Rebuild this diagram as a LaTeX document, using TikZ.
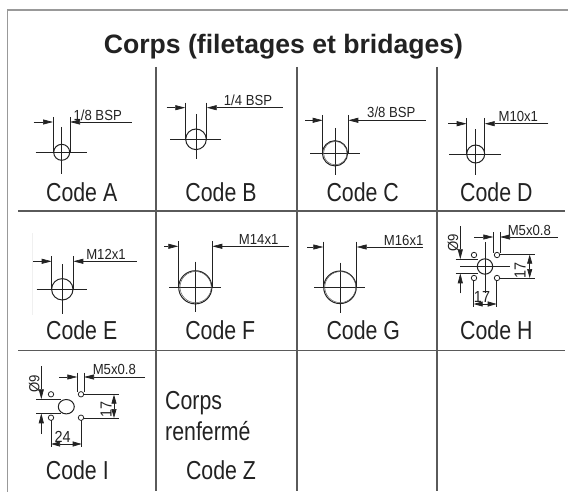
\documentclass[tikz,border=0pt]{standalone}
\usepackage{fontspec}
\setmainfont{Liberation Sans}
\newfontfamily\codefont[FakeStretch=0.82]{Liberation Sans}
\newfontfamily\dimfont[FakeStretch=0.9]{Liberation Sans}
\usetikzlibrary{arrows.meta}
\definecolor{gridc}{HTML}{5A5A5A}
\definecolor{framec}{HTML}{999999}
\definecolor{inkc}{HTML}{222222}
\tikzset{
  gridline/.style={draw=gridc,line width=1.2pt},
  frameline/.style={draw=framec,line width=1.2pt},
  thinl/.style={draw=inkc,line width=0.7pt},
  circl/.style={draw=inkc,line width=1pt},
  holec/.style={draw=inkc,line width=0.8pt},
  dblc/.style={draw=inkc!75,line width=0.5pt},
  arrl/.style={thinl,-{Stealth[length=10pt,width=5pt,inset=0pt,fill=inkc]}},
  darrl/.style={thinl,{Stealth[length=9pt,width=5pt,inset=0pt,fill=inkc]}-{Stealth[length=9pt,width=5pt,inset=0pt,fill=inkc]}},
  codetxt/.style={anchor=base,inner sep=0pt,text=inkc,font=\codefont\fontsize{26}{28}\selectfont},
  lefttxt/.style={anchor=base west,inner sep=0pt,text=inkc,font=\codefont\fontsize{26}{28}\selectfont},
  dimtxt/.style={anchor=base,inner sep=0pt,text=inkc,font=\dimfont\fontsize{14.6}{16}\selectfont},
  bigdim/.style={anchor=base,inner sep=0pt,text=inkc,font=\dimfont\fontsize{16}{17}\selectfont},
  titletxt/.style={anchor=base,inner sep=0pt,text=inkc,font=\bfseries\fontsize{26.6}{30}\selectfont},
}
\begin{document}
\begin{tikzpicture}[x=1pt,y=-1pt]
\useasboundingbox (0,0) rectangle (568,492);
% frame
\draw[frameline] (568,10) -- (7.5,10) -- (7.5,492);
% grid
\foreach \gx in {156,297,437} \draw[gridline] (\gx,67) -- (\gx,491);
\foreach \gy in {211,350.7} \draw[gridline] (18,\gy) -- (565,\gy);
\node[titletxt] (title) at (283.5,53.3) {Corps (filetages et bridages)};
% single-hole ports
\foreach \dy/\xa/\xl/\xr/\xb/\et/\ccx/\ccy/\rad/\hla/\hlb/\vta/\vtb/\dbl in {
  122/33.5/53/70/131.7/117/61.7/152.3/8/35.7/86.7/127/174.3/0,
  107.7/166.7/185.3/206.7/282.7/102.7/196/139.3/10.3/170.3/220.7/114/158.7/0,
  120.3/305.3/322.7/348.3/425.7/115/335/153.3/12.6/310/360/128/174.7/0.9,
  123.7/448/466.7/484.7/548.3/118/475.7/154/9/449.3/500.7/129.3/174.7/0,
  261.3/32.3/51.7/73.3/136.7/256/62.3/289.3/10.7/36.7/87.3/264.3/314.3/0,
  246.3/164/178.3/212.3/288.7/241.3/195.3/287.3/16.6/169.3/220.7/261.7/312.3/1,
  247/307.3/323.3/356.7/423/241.7/340/287.3/16.3/314/365/262.7/313/0.8}{
  \draw[arrl] (\xa,\dy) -- (\xl,\dy);
  \draw[arrl] (\xb,\dy) -- (\xr,\dy);
  \draw[thinl] (\xl,\et) -- (\xl,\ccy) (\xr,\et) -- (\xr,\ccy);
  \draw[thinl] (\hla,\ccy) -- (\hlb,\ccy) (\ccx,\vta) -- (\ccx,\vtb);
  \draw[circl] (\ccx,\ccy) circle[radius=\rad];
  \ifdim\dbl pt>0pt \draw[dblc] (\ccx,\ccy) ++(0.3,-0.2) circle[radius=\rad-\dbl]; \fi
}
\draw[draw=black!6,line width=0.5pt] (32.3,233) -- (32.3,315);
% thread labels
\node[dimtxt] (la) at (97.7,120.3) {1/8 BSP};
\node[dimtxt] (lb) at (248,105.5) {1/4 BSP};
\node[dimtxt] (lc) at (391.3,118) {3/8 BSP};
\node[dimtxt] (ld) at (518.3,121.5) {M10x1};
\node[dimtxt] (le) at (106,259.3) {M12x1};
\node[dimtxt] (lf) at (258.7,244.5) {M14x1};
\node[dimtxt] (lg) at (403.7,245) {M16x1};
% code H
\draw[arrl] (474.3,237) -- (493.3,237);
\draw[arrl] (557.7,237) -- (500,237);
\draw[thinl] (493.3,232.3) -- (493.3,253) (500,232.3) -- (500,253);
\draw[circl] (485,266.5) circle[radius=7.7];
\draw[thinl] (460,266.5) -- (510,266.5) (485,242.3) -- (485,293.3);
\foreach \hx/\hy in {474/255,497/255,474/278,497/278} \draw[holec] (\hx,\hy) circle[radius=2.7];
\draw[thinl] (455.7,259.3) -- (478,259.3) (455.7,273.3) -- (478,273.3);
\draw[arrl] (460.3,226) -- (460.3,259.3);
\draw[arrl] (460.3,293.3) -- (460.3,273.3);
\draw[thinl] (499.7,254.6) -- (534.7,254.6) (499.7,278) -- (534.7,278);
\draw[darrl] (529.7,254.6) -- (529.7,278);
\draw[thinl] (473.6,280.7) -- (473.6,306.7) (496.7,280.7) -- (496.7,306.7);
\draw[darrl] (473.6,304) -- (496.7,304);
\node[dimtxt] (lh) at (529.3,235.5) {M5x0.8};
\node[dimtxt,rotate=90] (lh9) at (458,243) {Ø9};
\node[bigdim,rotate=90] (lh17a) at (525.5,270) {17};
\node[bigdim] (lh17b) at (482,302.5) {17};
% code I
\draw[arrl] (59.3,377) -- (77.3,377);
\draw[arrl] (145,377) -- (84,377);
\draw[thinl] (77.3,372.7) -- (77.3,392) (84,372.7) -- (84,392);
\draw[circl] (66.3,406.7) ellipse[x radius=8,y radius=7.2];
\foreach \hx/\hy in {51/394.3,81/394.3,51/417.7,81/417.7} \draw[holec] (\hx,\hy) circle[radius=2.7];
\draw[thinl] (36,399.3) -- (61,399.3) (36,413.3) -- (61,413.3);
\draw[arrl] (41.3,366) -- (41.3,399.3);
\draw[arrl] (41.3,434) -- (41.3,413.3);
\draw[thinl] (83.7,394.6) -- (119,394.6) (83.7,418) -- (119,418);
\draw[darrl] (114,394.6) -- (114,418);
\draw[thinl] (51,420.4) -- (51,446.7) (81.7,420.4) -- (81.7,446.7);
\draw[darrl] (51,444) -- (81.7,444);
\node[dimtxt] (li) at (114.3,374.5) {M5x0.8};
\node[dimtxt,rotate=90] (li9) at (39.3,384) {Ø9};
\node[bigdim,rotate=90] (li17a) at (111.5,409.3) {17};
\node[bigdim] (li17b) at (62.7,442) {24};
% codes
\node[codetxt] (ca) at (81.7,201.7) {Code A};
\node[codetxt] (cb) at (221,201.7) {Code B};
\node[codetxt] (cc) at (362.7,201.7) {Code C};
\node[codetxt] (cd) at (496.3,201.7) {Code D};
\node[codetxt] (ce) at (81.7,339.3) {Code E};
\node[codetxt] (cf) at (220.3,339.3) {Code F};
\node[codetxt] (cg) at (363.3,339.3) {Code G};
\node[codetxt] (ch) at (496.3,339.3) {Code H};
\node[codetxt] (ci) at (77.3,479.3) {Code I};
\node[codetxt] (cz) at (221,479.3) {Code Z};
\node[lefttxt] (t1) at (165,409) {Corps};
\node[lefttxt] (t2) at (165,440) {renfermé};
\end{tikzpicture}
\end{document}
